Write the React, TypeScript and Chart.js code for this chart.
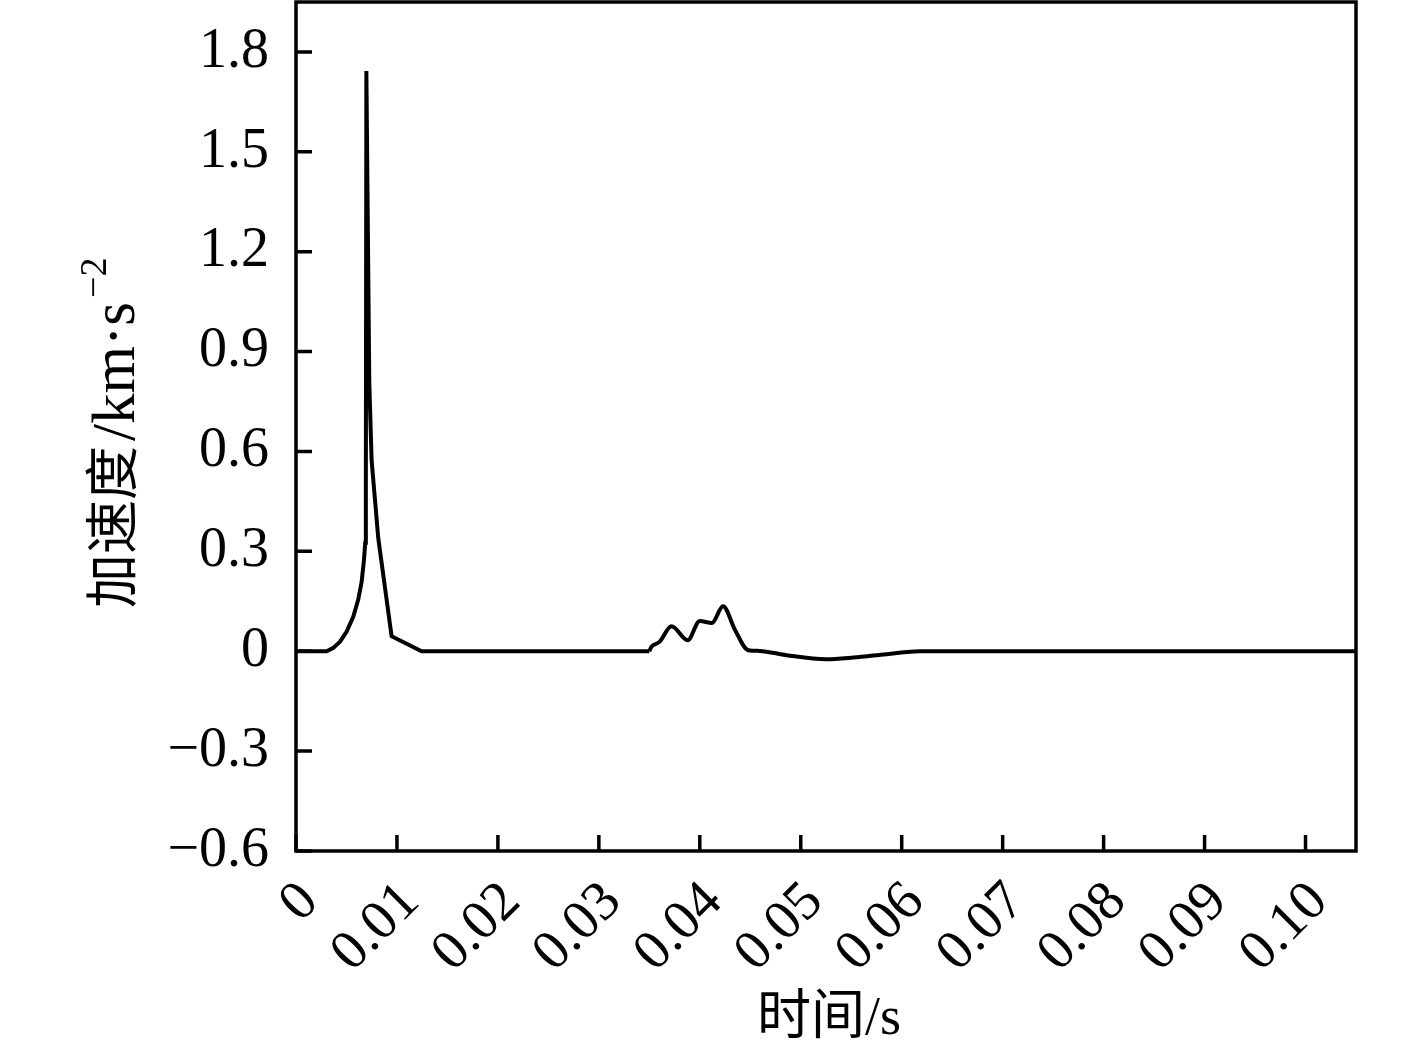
import React, { useEffect, useRef } from 'react';
import { Chart, registerables } from 'chart.js';

Chart.register(...registerables);

// Impact spike part (s, km·s^-2)
const spikeTimes = [0, 0.00304, 0.0037, 0.00436, 0.00502, 0.00568, 0.00617, 0.0065, 0.00673, 0.00686, 0.00692, 0.00697, 0.00726, 0.00749, 0.00815, 0.00947, 0.01244, 0.035];
const spikeAccel = [0, 0, 0.01, 0.029, 0.059, 0.104, 0.156, 0.208, 0.273, 0.326, 0.5, 1.743, 0.807, 0.573, 0.339, 0.045, 0, 0];

// Later oscillation part
const waveTimes = [0.035, 0.0352, 0.036, 0.0372, 0.0388, 0.04, 0.0412, 0.0423, 0.0435, 0.0448, 0.0459, 0.0486, 0.0525, 0.0552, 0.0585, 0.0618, 0.105];
const waveAccel = [0, 0.013, 0.028, 0.075, 0.033, 0.091, 0.085, 0.135, 0.063, 0.003, 0.001, -0.012, -0.024, -0.019, -0.009, 0, 0];

const xTickValues = [0, 0.01, 0.02, 0.03, 0.04, 0.05, 0.06, 0.07, 0.08, 0.09, 0.1];
const yTickValues = [-0.6, -0.3, 0, 0.3, 0.6, 0.9, 1.2, 1.5, 1.8];

const xTitle = '时间/s';
const yTitleMain = ['加速度', '/km·s'];
const yTitleSup = '−2';

const SERIF = '"Liberation Serif", "Times New Roman", serif';
const CJK = '"Noto Sans CJK SC", sans-serif';

const fmtX = (v: number) => (v === 0 ? '0' : v.toFixed(2));
const fmtY = (v: number) => {
  if (Math.abs(v) < 1e-9) return '0';
  return (v < 0 ? '−' : '') + Math.abs(v).toFixed(1);
};

const framePlugin = {
  id: 'frameAndLabels',
  afterDraw(chart: any) {
    const { ctx, chartArea } = chart;
    const { left, right, top, bottom } = chartArea;
    const xs = chart.scales.x;
    const ys = chart.scales.y;
    ctx.save();
    ctx.strokeStyle = '#000';
    ctx.lineWidth = 3.5;
    ctx.lineCap = 'butt';
    ctx.strokeRect(left, top, right - left, bottom - top);
    const tl = 16;
    ctx.beginPath();
    ys.ticks.forEach((t: any) => {
      const py = ys.getPixelForValue(t.value);
      ctx.moveTo(left, py);
      ctx.lineTo(left + tl, py);
    });
    xs.ticks.forEach((t: any) => {
      const px = xs.getPixelForValue(t.value);
      ctx.moveTo(px, bottom);
      ctx.lineTo(px, bottom - tl);
    });
    ctx.stroke();

    // rotated x tick labels
    ctx.fillStyle = '#000';
    ctx.font = `56px ${SERIF}`;
    ctx.textAlign = 'right';
    ctx.textBaseline = 'middle';
    xs.ticks.forEach((t: any) => {
      const px = xs.getPixelForValue(t.value);
      ctx.save();
      ctx.translate(px + 14, bottom + 42);
      ctx.rotate(-Math.PI / 4);
      ctx.fillText(fmtX(t.value), 0, 0);
      ctx.restore();
    });

    // x title
    ctx.font = `54px ${SERIF}, ${CJK}`;
    ctx.textAlign = 'center';
    ctx.textBaseline = 'middle';
    ctx.fillText(xTitle, (left + right) / 2 + 3, 1020);

    // y title with superscript
    ctx.save();
    ctx.translate(134, 608);
    ctx.rotate(-Math.PI / 2);
    ctx.textAlign = 'left';
    ctx.textBaseline = 'alphabetic';
    let x = 0;
    ctx.font = `54px ${CJK}`;
    ctx.fillText(yTitleMain[0], x, -2);
    x += ctx.measureText(yTitleMain[0]).width + 5;
    ctx.font = `61px ${SERIF}`;
    ctx.fillText(yTitleMain[1], x, 0);
    x += ctx.measureText(yTitleMain[1]).width + 4;
    ctx.font = `38px ${SERIF}`;
    ctx.fillText(yTitleSup, x, -28);
    ctx.restore();

    ctx.restore();
  },
};

export default function App() {
  const ref = useRef<HTMLCanvasElement | null>(null);
  useEffect(() => {
    document.body.style.margin = '0';
    if (!ref.current) return;
    const chart = new Chart(ref.current, {
      type: 'line',
      data: {
        datasets: [
          {
            data: spikeTimes.map((t, i) => ({ x: t, y: spikeAccel[i] })),
            borderColor: '#000',
            borderWidth: 4,
            pointRadius: 0,
            tension: 0,
            fill: false,
          },
          {
            data: waveTimes.map((t, i) => ({ x: t, y: waveAccel[i] })),
            borderColor: '#000',
            borderWidth: 4,
            pointRadius: 0,
            cubicInterpolationMode: 'monotone',
            fill: false,
          },
        ],
      },
      options: {
        animation: false,
        responsive: false,
        devicePixelRatio: 1,
        layout: { padding: { top: 2, right: 61, left: 0, bottom: 0 } },
        plugins: { legend: { display: false }, tooltip: { enabled: false } },
        scales: {
          x: {
            type: 'linear',
            min: 0,
            max: 0.105,
            grid: { display: false, drawTicks: false },
            border: { display: false },
            ticks: { display: false },
            afterBuildTicks: (s: any) => {
              s.ticks = xTickValues.map((v) => ({ value: v }));
            },
            afterFit: (s: any) => {
              s.height = 207;
              s.paddingLeft = 0;
              s.paddingRight = 0;
            },
          },
          y: {
            type: 'linear',
            min: -0.6,
            max: 1.95,
            grid: { display: false, drawTicks: false },
            border: { display: false },
            ticks: {
              padding: 27,
              color: '#000',
              font: { family: SERIF, size: 56 },
              callback: (v: any) => fmtY(Number(v)),
            },
            afterBuildTicks: (s: any) => {
              s.ticks = yTickValues.map((v) => ({ value: v }));
            },
            afterFit: (s: any) => {
              s.width = 296;
              s.paddingTop = 0;
              s.paddingBottom = 0;
            },
          },
        },
      },
      plugins: [framePlugin],
    } as any);
    return () => chart.destroy();
  }, []);
  return <canvas ref={ref} width={1417} height={1058} style={{ display: 'block' }} />;
}
